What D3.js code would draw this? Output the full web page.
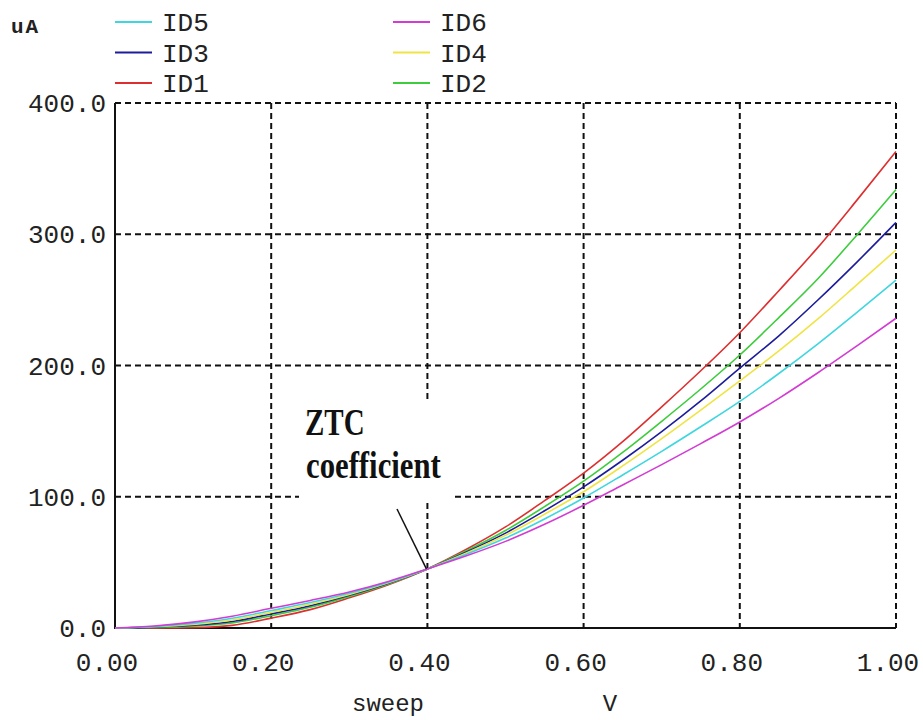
<!DOCTYPE html>
<html lang="en">
<head>
    <style>
        body { margin: 0; background: #fff; }
        .tick-label { font-family: "Liberation Mono", "DejaVu Sans Mono", monospace; font-size: 26px; fill: #222; }
        .grid { stroke: #111; stroke-width: 2; stroke-dasharray: 6,4; }
        .axis-line { stroke: #111; stroke-width: 2; }
        .curve { fill: none; stroke-width: 1.6; }
    </style>
    <script src="https://d3js.org/d3.v7.min.js"></script>
</head>
<body>
    <svg width="923" height="720"></svg>
    <script>
        // sweep voltage (V)
        var sweep = [0.00, 0.05, 0.10, 0.15, 0.20, 0.25, 0.30, 0.35, 0.40, 0.45, 0.50,
                     0.55, 0.60, 0.65, 0.70, 0.75, 0.80, 0.85, 0.90, 0.95, 1.00];

        // drain currents (uA)
        var id1 = [0, 0, 0.3, 2, 7.5, 14, 23, 33, 45, 60, 77, 97, 118, 142, 168.5, 196, 225, 257, 290, 326, 363];
        var id2 = [0, 0.4, 1.4, 3.8, 9.4, 15.8, 24.1, 33.6, 45, 58.8, 74.3, 92.5, 111.9, 133.8, 157.5, 182.1, 208, 236.5, 266.1, 299.5, 334];
        var id3 = [0, 0.7, 2.1, 5, 10.7, 17, 24.9, 34.1, 45, 57.9, 72.3, 89.3, 107.5, 127.8, 149.6, 173, 198, 222.6, 249.9, 278.8, 309];
        var id4 = [0, 0.9, 2.7, 6.1, 11.9, 18.1, 25.6, 34.5, 45, 57.1, 70.6, 86.7, 103.8, 123.5, 144.3, 166, 188.3, 211.1, 235.5, 261.6, 288];
        var id5 = [0, 1.2, 3.5, 7.4, 13.3, 19.4, 26.5, 34.9, 45, 56.2, 68.5, 83.1, 99.1, 116.6, 134.6, 153.3, 172.6, 193.9, 216.5, 240.5, 265];
        var id6 = [0, 1.5, 4.5, 9, 15, 21, 27.5, 35.5, 45, 55, 66, 79, 93.5, 109, 124.5, 140.5, 157, 175, 194.5, 215, 236];

        var seriesNames = ["ID1", "ID2", "ID3", "ID4", "ID5", "ID6"];
        var seriesValues = [id1, id2, id3, id4, id5, id6];
        var seriesColors = ["#dd2f2f", "#3ccc3c", "#1c1c9c", "#f0e444", "#3fd6e0", "#d23cd2"];

        // legend order as printed: two columns, three rows
        var legendOrder = ["ID5", "ID3", "ID1", "ID6", "ID4", "ID2"];

        var xTicks = [0, 0.2, 0.4, 0.6, 0.8, 1.0];
        var yTicks = [0, 100, 200, 300, 400];

        var svg = d3.select("svg");

        var x = d3.scaleLinear().domain([0, 1]).range([115, 896]);
        var y = d3.scaleLinear().domain([0, 400]).range([628, 103]);

        // dashed grid, including the top and right frame
        svg.append("g")
           .selectAll("line")
           .data(xTicks.slice(1))
           .enter().append("line")
           .attr("class", "grid")
           .attr("x1", function(d) { return x(d); })
           .attr("x2", function(d) { return x(d); })
           .attr("y1", y(400))
           .attr("y2", y(0));

        svg.append("g")
           .selectAll("line")
           .data(yTicks.slice(1))
           .enter().append("line")
           .attr("class", "grid")
           .attr("x1", x(0))
           .attr("x2", x(1))
           .attr("y1", function(d) { return y(d); })
           .attr("y2", function(d) { return y(d); });

        // solid left and bottom axes
        svg.append("line")
           .attr("class", "axis-line")
           .attr("x1", x(0)).attr("x2", x(0))
           .attr("y1", y(400)).attr("y2", y(0) + 1);
        svg.append("line")
           .attr("class", "axis-line")
           .attr("x1", x(0)).attr("x2", x(1))
           .attr("y1", y(0)).attr("y2", y(0));

        // tick labels
        svg.append("g")
           .selectAll("text")
           .data(yTicks)
           .enter().append("text")
           .attr("class", "tick-label")
           .attr("x", 106)
           .attr("y", function(d) { return y(d); })
           .attr("dy", "0.35em")
           .attr("text-anchor", "end")
           .text(function(d) { return d3.format(".1f")(d); });

        svg.append("g")
           .selectAll("text")
           .data(xTicks)
           .enter().append("text")
           .attr("class", "tick-label")
           .attr("x", function(d) { return x(d) - 8; })
           .attr("y", 671)
           .attr("text-anchor", "middle")
           .text(function(d) { return d3.format(".2f")(d); });

        svg.append("text")
           .attr("class", "tick-label")
           .attr("x", 388)
           .attr("y", 711)
           .attr("text-anchor", "middle")
           .style("font-size", "24px")
           .text("sweep");

        svg.append("text")
           .attr("class", "tick-label")
           .attr("x", 610)
           .attr("y", 711)
           .attr("text-anchor", "middle")
           .style("font-size", "24px")
           .text("V");

        svg.append("text")
           .attr("class", "tick-label")
           .attr("x", 11)
           .attr("y", 33)
           .style("font-size", "21px")
           .style("font-weight", "bold")
           .style("letter-spacing", "2px")
           .text("uA");

        // legend
        var legend = svg.append("g")
           .selectAll("g")
           .data(legendOrder)
           .enter().append("g")
           .attr("transform", function(d, i) {
               return "translate(" + (i < 3 ? 115 : 393) + "," + (22 + (i % 3) * 30.5) + ")";
           });

        legend.append("line")
           .attr("x1", 0).attr("x2", 37)
           .attr("y1", 0).attr("y2", 0)
           .attr("stroke-width", 2)
           .attr("stroke", function(d) { return seriesColors[seriesNames.indexOf(d)]; });

        legend.append("text")
           .attr("class", "tick-label")
           .attr("x", 47)
           .attr("y", 0)
           .attr("dy", "0.36em")
           .text(function(d) { return d; });

        // white label box for the annotation
        svg.append("rect")
           .attr("x", 299)
           .attr("y", 402)
           .attr("width", 152)
           .attr("height", 99)
           .attr("fill", "#fff");

        // curves
        var line = d3.line()
            .x(function(d, i) { return x(sweep[i]); })
            .y(function(d) { return y(d); })
            .curve(d3.curveMonotoneX);

        svg.append("g")
           .selectAll("path")
           .data(seriesValues)
           .enter().append("path")
           .attr("class", "curve")
           .attr("stroke", function(d, i) { return seriesColors[i]; })
           .attr("d", line);

        // ZTC annotation
        svg.append("line")
           .attr("x1", 397).attr("y1", 509)
           .attr("x2", x(0.4) - 1).attr("y2", y(45))
           .attr("stroke", "#111")
           .attr("stroke-width", 1.5);

        var ztc = svg.append("g")
           .attr("font-family", "'Liberation Serif', 'DejaVu Serif', serif")
           .attr("font-weight", "bold")
           .attr("font-size", "29px")
           .attr("fill", "#111");

        ztc.append("text")
           .attr("transform", "translate(305,435) scale(1.0,1.3)")
           .text("ZTC");

        ztc.append("text")
           .attr("transform", "translate(306,478) scale(1.06,1.3)")
           .text("coefficient");
    </script>
</body>
</html>
